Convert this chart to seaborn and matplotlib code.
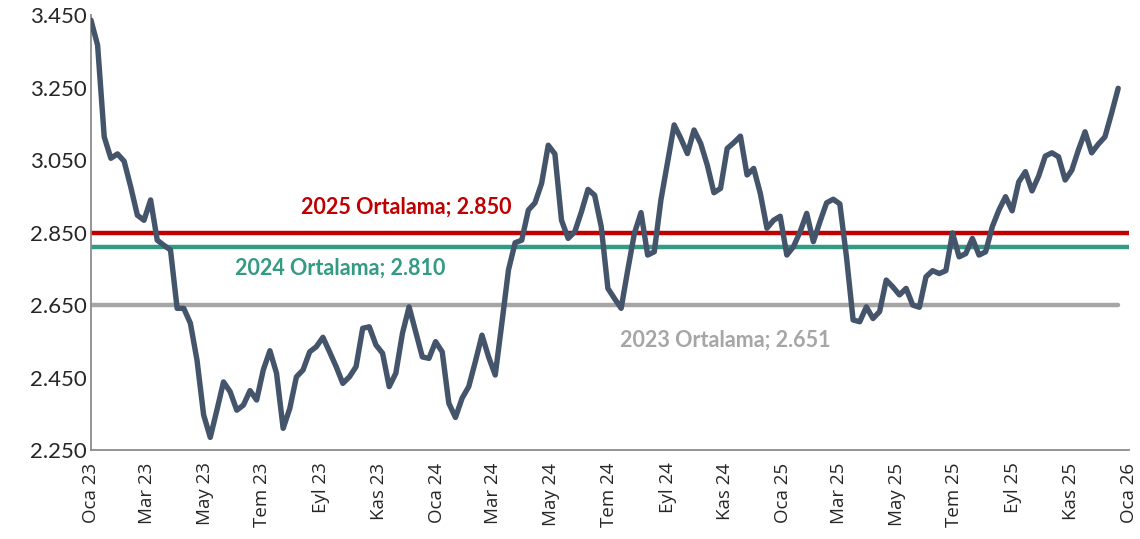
import matplotlib
matplotlib.use("Agg")
import matplotlib.pyplot as plt
import matplotlib.ticker as mticker
import seaborn as sns
import pandas as pd

# weekly series, Jan 2023 - Dec 2025
values_2023a = [3436, 3367, 3114, 3055, 3067, 3047, 2976, 2898, 2884, 2940, 2829, 2815,
                2802, 2641, 2641, 2600, 2498, 2347, 2285, 2360, 2438, 2411, 2360, 2374,
                2414, 2388, 2471, 2524, 2462, 2310, 2365, 2452, 2471, 2521, 2535, 2561,
                2521, 2480, 2434, 2452, 2480, 2586, 2590, 2540, 2517]
values_2024a = [2425, 2462, 2572, 2645, 2576, 2507, 2503, 2549, 2521, 2379, 2340, 2393,
                2425, 2494, 2567, 2507, 2457, 2600, 2747, 2822, 2829, 2912, 2932, 2986,
                3091, 3067, 2884, 2834, 2852, 2907, 2969, 2953, 2866, 2696, 2668, 2641,
                2747, 2848, 2905, 2788, 2797, 2940, 3044]
values_2025a = [3147, 3110, 3068, 3133, 3096, 3036, 2960, 2972, 3082, 3098, 3116, 3009,
                3027, 2958, 2862, 2884, 2895, 2788, 2811, 2852, 2903, 2825, 2880, 2932,
                2942, 2929, 2783, 2609, 2604, 2645, 2613, 2632, 2719, 2700, 2678, 2696,
                2650, 2644, 2728, 2745, 2737, 2745, 2849, 2783]
values_2025b = [2792, 2834, 2788, 2797, 2866, 2912, 2949, 2910, 2990, 3018, 2965, 3006,
                3061, 3070, 3059, 2995, 3022, 3078, 3128, 3070, 3094, 3114, 3179, 3248]
values = values_2023a + values_2024a + values_2025a + values_2025b
dates = pd.date_range("2023-01-01", periods=len(values), freq="7D")

avg_labels = ["2025 Ortalama; 2.850", "2024 Ortalama; 2.810", "2023 Ortalama; 2.651"]
avg_values = [2850, 2810, 2651]
avg_colors = ["#C00000", "#339A83", "#A6A6A6"]

tick_months = ["Oca", "Mar", "May", "Tem", "Eyl", "Kas"]
y_ticks = [2250, 2450, 2650, 2850, 3050, 3250, 3450]

sns.set_style("white")
plt.rcParams["font.family"] = ["Lato", "DejaVu Sans"]

fig = plt.figure(figsize=(11.4, 5.39), dpi=100)
ax = fig.add_axes([0.0798, 0.165, 0.9102, 0.807])

df = pd.DataFrame({"tarih": dates, "deger": values})

# average lines
x_end_full = pd.Timestamp("2026-01-01")
ends = [x_end_full, x_end_full, dates[-1]]
for v, c, e in zip(avg_values, avg_colors, ends):
    ax.plot([dates[0], e], [v, v], color=c, lw=3.2, solid_capstyle="round", zorder=2)

sns.lineplot(data=df, x="tarih", y="deger", ax=ax, color="#44546A", lw=3.9,
             zorder=3)
for l in ax.lines:
    l.set_solid_joinstyle("round")
    l.set_solid_capstyle("round")

# labels
label_pos = [(pd.Timestamp("2023-11-30"), 2920), (pd.Timestamp("2023-09-21"), 2752),
             (pd.Timestamp("2024-11-01"), 2553)]
for (x, y), t, c in zip(label_pos, avg_labels, avg_colors):
    ax.text(x, y, t, color=c, fontsize=15.5, fontweight="bold", ha="center", va="center")

ax.set_xlim(pd.Timestamp("2023-01-01"), pd.Timestamp("2026-01-01"))
ax.set_ylim(2250, 3450)
ax.set_yticks(y_ticks)
ax.yaxis.set_major_formatter(mticker.FuncFormatter(lambda v, p: f"{v:,.0f}".replace(",", ".")))

ticks = pd.date_range("2023-01-01", "2026-01-01", freq="2MS")
ax.set_xticks(ticks)
ax.set_xticklabels([f"{tick_months[(d.month - 1) // 2]} {d.year % 100}" for d in ticks],
                   rotation=90, family=["Open Sans", "DejaVu Sans"])
ax.set_xlabel("")
ax.set_ylabel("")

for s in ["top", "right"]:
    ax.spines[s].set_visible(False)
for s in ["left", "bottom"]:
    ax.spines[s].set_color("#8C8C8C")
    ax.spines[s].set_linewidth(1.3)
ax.tick_params(axis="x", length=6, width=1.3, color="#8C8C8C", labelsize=13.5, pad=3)
ax.tick_params(axis="y", length=0, labelsize=16, pad=3)

fig.savefig("out.png", dpi=100)
